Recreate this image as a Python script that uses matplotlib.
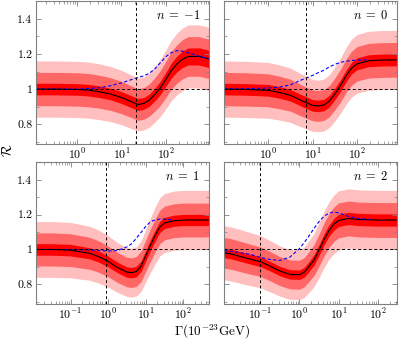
import numpy as np
import matplotlib
matplotlib.use('Agg')
import matplotlib.pyplot as plt
from matplotlib.ticker import FuncFormatter, LogLocator, MultipleLocator, NullFormatter

plt.rcParams['font.family'] = 'serif'
plt.rcParams['font.serif'] = ['cmr10', 'DejaVu Serif']
plt.rcParams['mathtext.fontset'] = 'cm'
plt.rcParams['axes.formatter.use_mathtext'] = True

#$$$$$$$$$$$$$$$$$$$$$$ data

# n = -1
gam_m1 = [0.12, 0.32, 1.0, 1.78, 3.16, 5.62, 10.0, 17.8, 23.7, 31.6, 42.2, 56.2, 75.0, 100, 133, 178, 237, 316, 562, 930]
ratio_m1 = [1.0, 1.0, 0.998, 0.994, 0.985, 0.972, 0.952, 0.925, 0.912, 0.918, 0.937, 0.969, 1.007, 1.056, 1.107, 1.144, 1.17, 1.186, 1.186, 1.172]
sig1_m1 = [0.033, 0.033, 0.033, 0.033, 0.033, 0.033, 0.034, 0.034, 0.034, 0.034, 0.035, 0.036, 0.038, 0.040, 0.043, 0.045, 0.047, 0.048, 0.049, 0.049]
sig2_m1 = [0.095, 0.095, 0.095, 0.095, 0.094, 0.093, 0.092, 0.09, 0.09, 0.09, 0.092, 0.095, 0.099, 0.103, 0.107, 0.11, 0.112, 0.113, 0.113, 0.112]
sig3_m1 = [0.16, 0.16, 0.16, 0.16, 0.159, 0.157, 0.155, 0.152, 0.15, 0.151, 0.154, 0.158, 0.163, 0.168, 0.172, 0.176, 0.178, 0.18, 0.18, 0.18]
blue_m1 = [1.0, 1.0, 1.0, 1.003, 1.007, 1.019, 1.035, 1.056, 1.066, 1.075, 1.09, 1.115, 1.15, 1.185, 1.208, 1.219, 1.216, 1.207, 1.188, 1.172]
bgam_m1 = gam_m1

# n = 0
gam_0 = [0.102, 0.32, 1.0, 1.78, 3.16, 5.62, 10.0, 13.3, 17.8, 23.7, 31.6, 42.2, 56.2, 75.0, 100, 178, 316, 790]
ratio_0 = [1.0, 0.998, 0.993, 0.981, 0.965, 0.935, 0.907, 0.904, 0.909, 0.931, 0.972, 1.019, 1.074, 1.119, 1.144, 1.161, 1.165, 1.167]
sig1_0 = [0.033, 0.033, 0.033, 0.033, 0.033, 0.033, 0.033, 0.033, 0.033, 0.033, 0.033, 0.033, 0.033, 0.033, 0.034, 0.034, 0.034, 0.034]
sig2_0 = [0.095, 0.095, 0.094, 0.093, 0.091, 0.089, 0.088, 0.088, 0.088, 0.089, 0.091, 0.093, 0.095, 0.097, 0.098, 0.099, 0.099, 0.099]
sig3_0 = [0.16, 0.16, 0.159, 0.157, 0.155, 0.151, 0.148, 0.147, 0.148, 0.15, 0.154, 0.158, 0.162, 0.165, 0.167, 0.168, 0.168, 0.168]
bgam_0 = [0.102, 0.32, 1.0, 1.78, 3.16, 5.62, 10.0, 13.3, 17.8, 23.7, 31.6, 42.2, 56.2, 75.0, 100, 178]
blue_0 = [1.0, 1.002, 1.006, 1.011, 1.024, 1.052, 1.078, 1.093, 1.107, 1.126, 1.141, 1.152, 1.159, 1.163, 1.165, 1.167]

# n = 1
gam_1 = [0.012, 0.032, 0.1, 0.32, 0.56, 1.0, 1.78, 3.16, 4.22, 5.62, 7.5, 10.0, 13.3, 17.8, 23.7, 31.6, 56.2, 100, 480]
ratio_1 = [1.0, 1.0, 0.996, 0.978, 0.959, 0.931, 0.896, 0.870, 0.867, 0.874, 0.904, 0.965, 1.025, 1.081, 1.13, 1.152, 1.165, 1.169, 1.169]
sig1_1 = [0.033, 0.033, 0.033, 0.032, 0.032, 0.031, 0.03, 0.03, 0.03, 0.03, 0.03, 0.031, 0.031, 0.032, 0.032, 0.032, 0.032, 0.032, 0.032]
sig2_1 = [0.095, 0.095, 0.094, 0.092, 0.09, 0.088, 0.086, 0.085, 0.085, 0.086, 0.088, 0.09, 0.093, 0.095, 0.096, 0.097, 0.097, 0.097, 0.097]
sig3_1 = [0.16, 0.16, 0.159, 0.155, 0.152, 0.148, 0.143, 0.14, 0.14, 0.141, 0.145, 0.15, 0.157, 0.163, 0.167, 0.169, 0.17, 0.17, 0.17]
bgam_1 = [0.012, 0.032, 0.1, 0.32, 0.56, 1.0, 1.78, 3.16, 4.22, 5.62, 7.5, 10.0, 13.3, 17.8, 23.7, 31.6, 52.5]
blue_1 = [1.0, 1.0, 1.0, 0.998, 0.994, 0.991, 0.994, 1.015, 1.033, 1.065, 1.098, 1.133, 1.159, 1.17, 1.174, 1.174, 1.17]

# n = 2
gam_2 = [0.0118, 0.0178, 0.0316, 0.0562, 0.1, 0.178, 0.316, 0.562, 1.0, 1.33, 1.78, 2.37, 3.16, 4.22, 5.62, 7.5, 10.0, 17.8, 31.6, 100, 310]
ratio_2 = [0.981, 0.974, 0.959, 0.944, 0.93, 0.904, 0.876, 0.857, 0.855, 0.87, 0.904, 0.941, 0.996, 1.056, 1.107, 1.144, 1.167, 1.178, 1.172, 1.169, 1.169]
sig1_2 = [0.028, 0.028, 0.028, 0.028, 0.028, 0.027, 0.027, 0.027, 0.027, 0.028, 0.029, 0.03, 0.031, 0.032, 0.033, 0.034, 0.035, 0.035, 0.035, 0.035, 0.035]
sig2_2 = [0.088, 0.088, 0.087, 0.086, 0.085, 0.084, 0.083, 0.083, 0.083, 0.084, 0.086, 0.089, 0.092, 0.095, 0.097, 0.099, 0.1, 0.1, 0.1, 0.1, 0.1]
sig3_2 = [0.155, 0.155, 0.154, 0.152, 0.15, 0.147, 0.144, 0.143, 0.143, 0.145, 0.149, 0.153, 0.158, 0.162, 0.165, 0.168, 0.17, 0.17, 0.17, 0.17, 0.17]
bgam_2 = [0.0118, 0.0178, 0.0316, 0.0562, 0.1, 0.178, 0.316, 0.562, 1.0, 1.33, 1.78, 2.37, 3.16, 4.22, 5.62, 7.5, 10.0, 17.8, 31.6, 63.0]
blue_2 = [0.993, 0.989, 0.981, 0.972, 0.955, 0.942, 0.937, 0.955, 1.005, 1.04, 1.08, 1.122, 1.16, 1.19, 1.208, 1.215, 1.21, 1.19, 1.178, 1.172]

labels = [r'$n\;=\;{-1}$', r'$n\;=\;0$', r'$n\;=\;1$', r'$n\;=\;2$']
vlines = [21.2, 7.2, 0.87, 0.1]
xlims = [(0.12, 930), (0.102, 790), (0.012, 480), (0.0118, 310)]

#$$$$$$$$$$$$$$$$$$$$$$

def panel(ax, gam, ratio, s1, s2, s3, bgam, blue, label, vx, xl, left):
# draws one panel: three red bands, central line, blue dashed and guides
    gam = np.array(gam)
    ratio = np.array(ratio)
    for s, col in [(s3, '#ffbfbf'), (s2, '#ff6666'), (s1, '#ff0000')]:
        s = np.array(s)
        ax.fill_between(gam, ratio - s, ratio + s, color=col, lw=0)
    ax.plot(gam, ratio, color='black', lw=0.8)
    ax.plot(bgam, blue, color='blue', lw=0.8, ls=(0, (3, 2)))
    ax.axhline(1.0, color='black', lw=0.7, ls=(0, (3, 2.5)))
    ax.axvline(vx, color='black', lw=0.7, ls=(0, (3, 2.5)))
    ax.set_xscale('log')
    ax.set_xlim(xl)
    ax.set_ylim(0.687, 1.502)
    ax.xaxis.set_major_locator(LogLocator(base=10, numticks=10))
    ax.xaxis.set_minor_locator(LogLocator(base=10, subs=np.arange(2, 10), numticks=20))
    ax.xaxis.set_minor_formatter(NullFormatter())
    ax.yaxis.set_major_locator(MultipleLocator(0.2))
    ax.yaxis.set_minor_locator(MultipleLocator(0.1))
    ax.yaxis.set_major_formatter(FuncFormatter(lambda v, p: f'{v:g}'))
    if not left:
        ax.set_yticklabels([])
    ax.tick_params(which='both', direction='in', top=True, right=True, color='#808080', labelsize=8.5, pad=2.5)
    ax.tick_params(which='major', length=3.5, width=0.6)
    ax.tick_params(which='minor', length=2, width=0.5)
    for sp in ax.spines.values():
        sp.set_color('#808080')
        sp.set_linewidth(0.8)
    ax.text(0.95, 0.9, label, transform=ax.transAxes, ha='right', va='center', fontsize=9)


fig = plt.figure(figsize=(3.99, 3.42), dpi=100)
w = 173 / 399
ax1 = fig.add_axes([36 / 399, 1 - 144 / 342, w, 143 / 342])
ax2 = fig.add_axes([224 / 399, 1 - 144 / 342, w, 143 / 342])
ax3 = fig.add_axes([36 / 399, 1 - 304 / 342, w, 142 / 342])
ax4 = fig.add_axes([224 / 399, 1 - 304 / 342, w, 142 / 342])

panel(ax1, gam_m1, ratio_m1, sig1_m1, sig2_m1, sig3_m1, bgam_m1, blue_m1, labels[0], vlines[0], xlims[0], True)
panel(ax2, gam_0, ratio_0, sig1_0, sig2_0, sig3_0, bgam_0, blue_0, labels[1], vlines[1], xlims[1], False)
panel(ax3, gam_1, ratio_1, sig1_1, sig2_1, sig3_1, bgam_1, blue_1, labels[2], vlines[2], xlims[2], True)
panel(ax4, gam_2, ratio_2, sig1_2, sig2_2, sig3_2, bgam_2, blue_2, labels[3], vlines[3], xlims[3], False)

fig.text(8 / 399, 1 - 150 / 342, r'$\mathcal{R}$', rotation=90, ha='center', va='center', fontsize=10)
fig.text(212 / 399, 1 - 332 / 342, r'$\Gamma(10^{-23}\mathrm{GeV})$', ha='center', va='center', fontsize=9.5)

fig.savefig('out.png', dpi=100)
